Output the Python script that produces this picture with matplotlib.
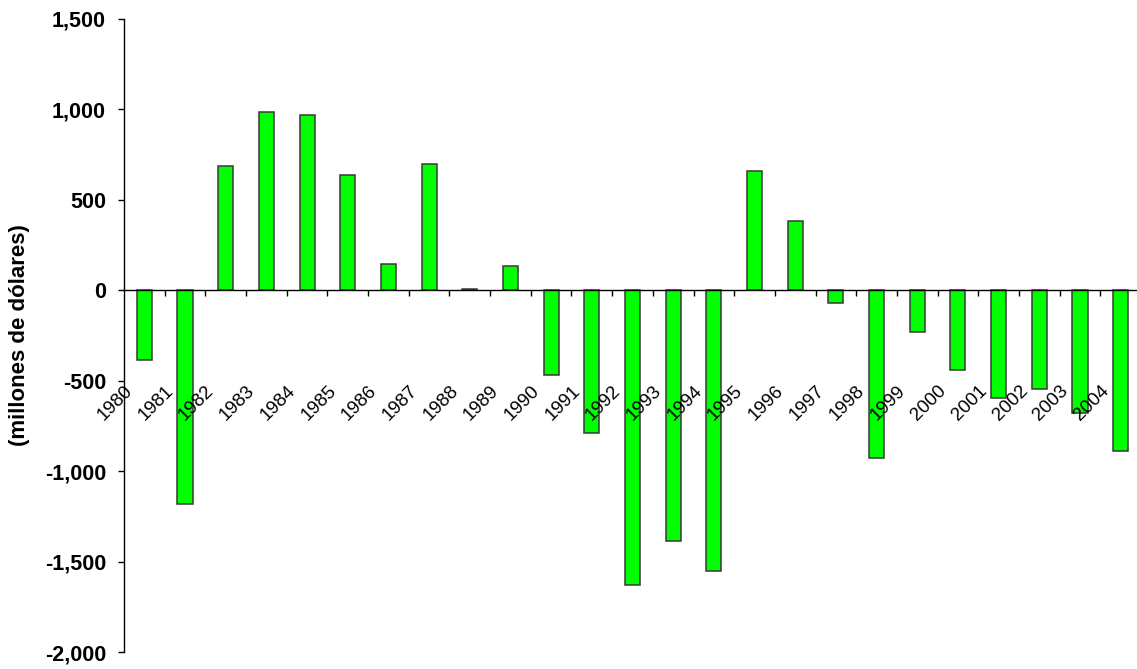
import matplotlib
matplotlib.use("Agg")
import matplotlib.pyplot as plt
import numpy as np

years = [str(y) for y in range(1980, 2005)]
values = [-385, -1184, 686, 987, 969, 636, 146, 698, 8, 133,
          -470, -791, -1627, -1389, -1550, 660, 385, -68, -928, -232,
          -439, -594, -548, -677, -889]
yticks = [-2000, -1500, -1000, -500, 0, 500, 1000, 1500]
ytick_labels = ["-2,000", "-1,500", "-1,000", "-500", "0", "500", "1,000", "1,500"]
ylabel = "(millones de dólares)"

plt.rcParams['font.family'] = ['Liberation Sans', 'DejaVu Sans']

fig = plt.figure(figsize=(11.37, 6.69), dpi=100)
ax = fig.add_axes([124/1137, 17/669, 1017/1137, 633/669])

x = np.arange(len(years))
ax.bar(x, values, width=0.37, color='#00FF00', edgecolor='#383838', linewidth=1.1, zorder=3)

ax.set_xlim(-0.5, len(years) - 0.5)
ax.set_ylim(-2000, 1500)

for s in ['top', 'right']:
    ax.spines[s].set_visible(False)
ax.spines['bottom'].set_position(('data', 0))
ax.spines['bottom'].set_zorder(4)
ax.spines['left'].set_linewidth(1.0)
ax.spines['bottom'].set_linewidth(1.0)

ax.set_yticks(yticks)
ax.set_yticklabels(ytick_labels, fontsize=15.5, fontweight='bold')
ax.tick_params(axis='y', direction='out', length=4.5, width=1.0, pad=8.5)

ax.set_xticks(x[:-1] + 0.5)
ax.set_xticklabels([])
ax.tick_params(axis='x', direction='out', length=4.5, width=1.0)

for i, lab in enumerate(years):
    ax.text(i - 0.35, -542, lab, rotation=45, rotation_mode='anchor',
            ha='right', va='center', fontsize=13.5, clip_on=False, zorder=5)

ax.set_ylabel(ylabel, fontsize=16, fontweight='bold')
ax.yaxis.set_label_coords(-0.092, 0.5)

fig.savefig("out.png", dpi=100)
